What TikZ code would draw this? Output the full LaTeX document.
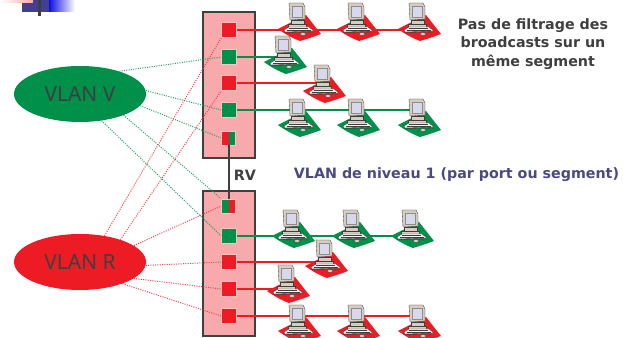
\documentclass[tikz,border=0pt]{standalone}
\usepackage{fontspec}
\setmainfont{Noto Sans}
\newfontfamily\lblfont{DejaVu Sans Bold}
\definecolor{vred}{HTML}{ED1C24}
\definecolor{vgreen}{HTML}{009049}
\definecolor{swpink}{HTML}{F8A9AC}
\definecolor{dk}{HTML}{3F3F3F}
\definecolor{purp}{HTML}{4B4A7F}
\definecolor{dgreen}{HTML}{20A060}
\definecolor{dred}{HTML}{F0404A}
\definecolor{beige}{HTML}{D6CCC0}
\definecolor{scr}{HTML}{D8D8EC}
\tikzset{
  switchbox/.style={draw=dk,line width=1.3pt,fill=swpink,minimum width=52*0.75pt,inner sep=0pt},
  port/.style={draw=swpink!70!white,line width=.4pt,minimum size=15*0.75pt,inner sep=0pt,fill=#1},
  splitrg/.style={port=vgreen,path picture={\fill[vred] (path picture bounding box.south west) rectangle (path picture bounding box.north);}},
  splitgr/.style={port=vred,path picture={\fill[vgreen] (path picture bounding box.south west) rectangle (path picture bounding box.north);}},
  vlan/.style={ellipse,fill=#1,minimum width=132*0.75pt,minimum height=56*0.75pt,inner sep=0pt,text=dk,font=\fontsize{15.7}{20}\selectfont},
  dotg/.style={dgreen,line width=.75pt,densely dotted},
  dotr/.style={dred,line width=.75pt,densely dotted},
  lan/.style={line width=1.1pt,#1},
  lbl/.style={font=\lblfont\fontsize{10.7}{14.1}\selectfont,text=dk,align=center},
  pc/.pic={
    \coordinate (-c) at (0,0);
    \fill[#1] (-17,2) -- (11,-12) -- (26,7) .. controls (18,10) and (12,12) .. (5,14) .. controls (-3,11) and (-10,7) .. cycle;
    \fill[beige,draw=dk,line width=.25pt] (-6,-24) -- (8,-24) -- (10,-20) -- (10,-8) -- (-5,-7) -- cycle;
    \fill[scr,draw=dk!60,line width=.25pt] (-3,-21) rectangle (7,-10);
    \fill[beige,draw=dk,line width=.25pt] (-4,-7) rectangle (9,-3);
    \fill[beige,draw=dk,line width=.25pt] (-7,-3) rectangle (11,0);
    \fill[white!85!beige,draw=dk,line width=.3pt] (-11,3) -- (-6,0) -- (14,0) -- (19,4) -- (-10,5) -- cycle;
    \draw[dk,line width=.3pt] (-6,1.5) -- (13,1.5) (-8,3) -- (16,3);
    \draw[dk,line width=.3pt] (-11,5.5) -- (19,5);
    \fill[beige,draw=dk,line width=.25pt] (8,7) ellipse (3 and 1.4);
  },
  pc/.default=vred
}
\usetikzlibrary{shapes.geometric}
\begin{document}
\begin{tikzpicture}[x=0.75pt,y=-0.75pt]
\useasboundingbox (0,0) rectangle (633,338);
\begin{scope}
\clip (0,0) rectangle (633,338);
% header decoration
\shade[left color=white,right color=red!35!white] (0,0) rectangle (33,3);
\fill[purp!85!blue] (22,3) rectangle (49,12);
\fill[purp!85!blue] (33,0) rectangle (49,3);
\shade[left color=blue!80!purp,right color=white] (49,0) rectangle (75,12);
\fill[dk] (37.5,0) rectangle (41,16);
% switches
\node[switchbox,minimum height=146*0.75pt] (S1) at (229,85) {};
\node[switchbox,minimum height=145*0.75pt] (S2) at (229,263.5) {};
% ports
\node[port=vred] (p1) at (229,30) {};
\node[port=vgreen] (p2) at (229,57) {};
\node[port=vred] (p3) at (229,83) {};
\node[port=vgreen] (p4) at (229,110) {};
\node[splitrg,minimum size=14*0.75pt] (p5) at (228.5,138) {};
\node[splitgr,minimum size=14*0.75pt] (q1) at (228.5,206) {};
\node[port=vgreen] (q2) at (229,236) {};
\node[port=vred] (q3) at (229,262) {};
\node[port=vred] (q4) at (229,289) {};
\node[port=vred] (q5) at (229,316) {};
% ellipses
\node[vlan=vgreen] (V) at (80,94) {VLAN V};
\node[vlan=vred] (R) at (80,262) {VLAN R};
% dotted links
\draw[dotg] (V.30) -- (p2.west);
\draw[dotg] (V.3) -- (p4.west);
\draw[dotg] (V.-11) -- (p5.west);
\draw[dotg] (V.-26) -- (q1.north west);
\draw[dotg] (V.-51) -- (q2.west);
\draw[dotr] (R.47) -- (p1.south west);
\draw[dotr] (R.29) -- (p3.south west);
\draw[dotr] (R.17) -- (q1.west);
\draw[dotr] (R.-3) -- (q3.west);
\draw[dotr] (R.-17) -- (q4.west);
\draw[dotr] (R.-27) -- (q5.west);
% router link
\draw[dk,line width=1.5pt] (p5.south) -- (q1.north);
% computers
\coordinate (ae) at (415,0);
\coordinate (be) at (408,0);
\draw[lan=vred] (p1.east) -- (p1 -| ae);
\draw[lan=vgreen] (p2.east) -- ++(42,0) coordinate (e2);
\draw[lan=vred] (p3.east) -- ++(90,0) coordinate (e3);
\draw[lan=vgreen] (p4.east) -- (p4 -| ae);
\draw[lan=vgreen] (q2.east) -- (q2 -| be);
\draw[lan=vred] (q3.east) -- ++(90,0) coordinate (e6);
\draw[lan=vred] (q4.east) -- ++(44,0) coordinate (e7);
\draw[lan=vred] (q5.east) -- (q5 -| ae);
\pic (a1) at (295,27) {pc=vred};
\pic (a2) at (354,27) {pc=vred};
\pic (a3) at (415,27) {pc=vred};
\pic (b1) at (281,60) {pc=vgreen};
\pic (c1) at (320,89) {pc=vred};
\pic (d1) at (295,123) {pc=vgreen};
\pic (d2) at (354,123) {pc=vgreen};
\pic (d3) at (415,123) {pc=vgreen};
\pic (f1) at (289,234) {pc=vgreen};
\pic (f2) at (349,234) {pc=vgreen};
\pic (f3) at (408,234) {pc=vgreen};
\pic (g1) at (322,264) {pc=vred};
\pic (h1) at (284,289) {pc=vred};
\pic (k1) at (295,329) {pc=vred};
\pic (k2) at (354,329) {pc=vred};
\pic (k3) at (415,329) {pc=vred};
% texts
\node[lbl] (T1) at (533,44) {Pas de filtrage des\\broadcasts sur un\\même segment};
\node[lbl,text=purp] (T2) at (456.5,175) {VLAN de niveau 1 (par port ou segment)};
\node[lbl] (T3) at (245,175) {RV};
\end{scope}
\end{tikzpicture}
\end{document}
